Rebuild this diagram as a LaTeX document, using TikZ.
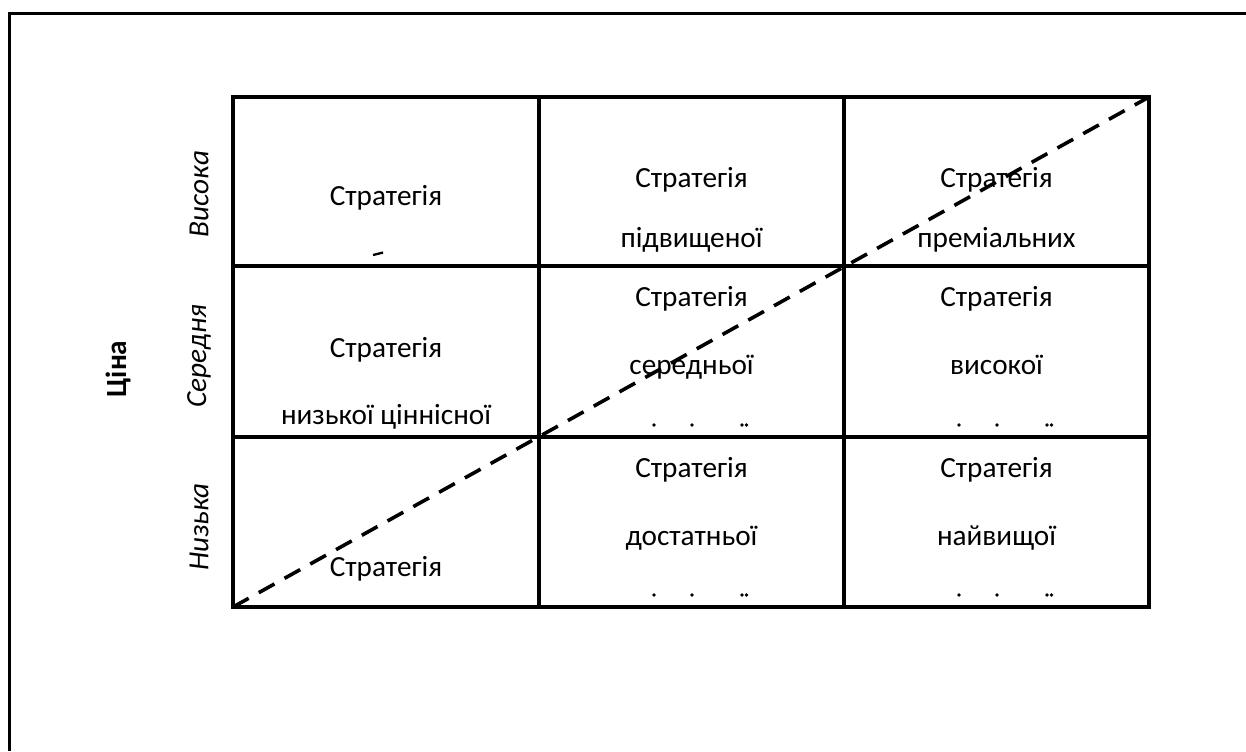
\documentclass[tikz,border=0pt]{standalone}
\usepackage{fontspec}
\setmainfont{Carlito}
\usepackage{tikz}
\begin{document}
\begin{tikzpicture}[x=0.39pt,y=-0.39pt,
  frame/.style={line width=1.3pt},
  txt/.style={anchor=base,inner sep=0pt,font=\fontsize{11.4pt}{13pt}\selectfont},
  axis/.style={rotate=90,inner sep=0pt,font=\fontsize{11.4pt}{13pt}\selectfont\itshape},
  diag/.style={line width=1.4pt,dash pattern=on 7pt off 4.5pt}]
\useasboundingbox (0,0) rectangle (1246,751);
\draw[frame] (9.5,751) -- (9.5,13.5) -- (1246,13.5);
\coordinate (sw) at (233,607);
\coordinate (ne) at (1149,97);
\draw[frame] (sw) rectangle (ne);
\draw[frame] (539,97) -- (539,607) (844,97) -- (844,607);
\draw[frame] (233,266) -- (1149,266) (233,437) -- (1149,437);
\draw[diag] (sw) -- (ne);
\draw[line width=0.9pt] (373,255) -- (383,252.5);
\foreach \cx in {692,997}
  \foreach \cy in {425,595} {
    \fill (\cx-38,\cy) circle[radius=1.8];
    \fill (\cx,\cy) circle[radius=1.8];
    \fill (\cx+50,\cy) circle[radius=1.8];
    \fill (\cx+54.5,\cy) circle[radius=1.8];
  }
\node[txt] (a1) at (386,205) {Стратегія};
\node[txt] (b1) at (691.5,187) {Стратегія};
\node[txt] (b1x) at (691.5,247) {підвищеної};
\node[txt] (c1) at (996.5,187) {Стратегія};
\node[txt] (c1x) at (996.5,247) {преміальних};
\node[txt] (a2) at (386,357) {Стратегія};
\node[txt] (a2x) at (386,424) {низької ціннісної};
\node[txt] (b2) at (691.5,306) {Стратегія};
\node[txt] (b2x) at (691.5,374) {середньої};
\node[txt] (c2) at (996.5,306) {Стратегія};
\node[txt] (c2x) at (996.5,374) {високої};
\node[txt] (a3) at (386,576) {Стратегія};
\node[txt] (b3) at (691.5,477) {Стратегія};
\node[txt] (b3x) at (691.5,545) {достатньої};
\node[txt] (c3) at (996.5,477) {Стратегія};
\node[txt] (c3x) at (996.5,545) {найвищої};
\node[axis] (high) at (199,194) {Висока};
\node[axis] (middle) at (199,356) {Середня};
\node[axis] (low) at (199,527) {Низька};
\node[rotate=90,inner sep=0pt,font=\fontsize{11.4pt}{13pt}\selectfont\bfseries] (price) at (118,369) {Ціна};
\end{tikzpicture}
\end{document}
